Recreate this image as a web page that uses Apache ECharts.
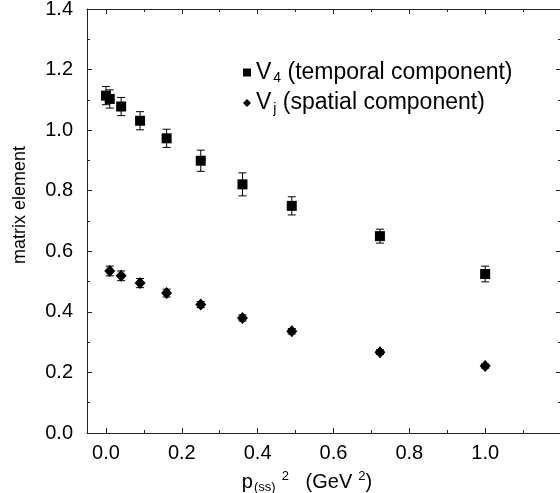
<!DOCTYPE html>
<html>
<head>
<meta charset="utf-8">
<script src="https://cdn.jsdelivr.net/npm/echarts@6/dist/echarts.min.js"></script>
<style>html,body{margin:0;padding:0;background:#fff}#c{width:560px;height:493px}</style>
</head>
<body>
<div id="c"></div>
<script>
// ---- data ----
var v4X   = [0.00, 0.01, 0.04, 0.09, 0.16, 0.25, 0.36, 0.49, 0.7225, 1.00];
var v4Y   = [1.114, 1.103, 1.078, 1.031, 0.973, 0.899, 0.821, 0.750, 0.650, 0.525];
var v4Err = [0.030, 0.030, 0.030, 0.030, 0.030, 0.035, 0.038, 0.030, 0.023, 0.026];
var vjX   = [0.01, 0.04, 0.09, 0.16, 0.25, 0.36, 0.49, 0.7225, 1.00];
var vjY   = [0.535, 0.519, 0.495, 0.462, 0.424, 0.380, 0.336, 0.267, 0.221];
var vjErr = [0.016, 0.016, 0.015, 0.013, 0.010, 0.010, 0.009, 0.008, 0.007];
var xMajorTicks = [0.0, 0.2, 0.4, 0.6, 0.8, 1.0, 1.2];
var xMinorTicks = [0.1, 0.3, 0.5, 0.7, 0.9, 1.1];
var xTickLabels = [0.0, 0.2, 0.4, 0.6, 0.8, 1.0];

var FONT = "'Liberation Sans', Arial, Helvetica, sans-serif";
var INK = '#000';
var AX = '#222';

function pts(xs, ys) { return xs.map(function (x, i) { return [x, ys[i]]; }); }
function errPts(xs, ys, es) { return xs.map(function (x, i) { return [x, ys[i] - es[i], ys[i] + es[i]]; }); }

function errRender(params, api) {
  var lo = api.coord([api.value(0), api.value(1)]);
  var hi = api.coord([api.value(0), api.value(2)]);
  var w = 4;
  var st = { stroke: INK, lineWidth: 1 };
  return { type: 'group', children: [
    { type: 'line', shape: { x1: lo[0], y1: lo[1], x2: hi[0], y2: hi[1] }, style: st },
    { type: 'line', shape: { x1: hi[0] - w, y1: hi[1], x2: hi[0] + w, y2: hi[1] }, style: st },
    { type: 'line', shape: { x1: lo[0] - w, y1: lo[1], x2: lo[0] + w, y2: lo[1] }, style: st }
  ]};
}

var baseX = { type: 'value', min: -0.05, max: 1.2, splitLine: { show: false } };
function xAx(pos, ticks, len, showLine, labels) {
  return Object.assign({}, baseX, {
    position: pos,
    axisLine: { show: showLine, onZero: false, lineStyle: { color: AX, width: 1 } },
    axisTick: { show: true, inside: true, length: len, customValues: ticks, lineStyle: { color: AX } },
    axisLabel: labels ? { show: true, customValues: xTickLabels, color: INK, fontFamily: FONT, fontSize: 20, margin: 10,
      formatter: function (v) { return Number(v).toFixed(1); } } : { show: false }
  });
}

var xAxes = [
  xAx('bottom', xMajorTicks, 5, true, true),
  xAx('bottom', xMinorTicks, 3, false, false),
  xAx('top', xMajorTicks, 5, true, false),
  xAx('top', xMinorTicks, 3, false, false)
];
xAxes[0].name = '{p|p}{sub|(ss)}{sup|2}{t|   (GeV}{sup|2}{t|)}';
xAxes[0].nameLocation = 'middle';
xAxes[0].nameGap = 37;
xAxes[0].nameTextStyle = {
  color: INK, fontFamily: FONT, fontSize: 20, padding: [0, 34, 0, 0],
  rich: {
    p: { fontFamily: FONT, fontSize: 20, color: INK },
    t: { fontFamily: FONT, fontSize: 20, color: INK },
    sub: { fontFamily: FONT, fontSize: 13, color: INK, padding: [9, 0, 0, 1] },
    sup: { fontFamily: FONT, fontSize: 13, color: INK, padding: [0, 0, 12, 6] }
  }
};

function yAx(pos, labels) {
  return {
    type: 'value', min: 0, max: 1.4, interval: 0.2, position: pos,
    splitLine: { show: false },
    axisLine: { show: true, onZero: false, lineStyle: { color: AX, width: 1 } },
    axisTick: { show: true, inside: true, length: 5, lineStyle: { color: AX } },
    minorTick: { show: true, splitNumber: 2, length: 3, lineStyle: { color: AX } },
    axisLabel: labels ? { show: true, color: INK, fontFamily: FONT, fontSize: 20, margin: 14,
      formatter: function (v) { return Number(v).toFixed(1); } } : { show: false }
  };
}
var yAxes = [yAx('left', true), yAx('right', false)];
yAxes[0].name = 'matrix element';
yAxes[0].nameLocation = 'middle';
yAxes[0].nameGap = 58;
yAxes[0].nameTextStyle = { color: INK, fontFamily: FONT, fontSize: 18, padding: [0, 0, 0, 32] };

var chart = echarts.init(document.getElementById('c'), null, { renderer: 'canvas' });
chart.setOption({
  animation: false,
  backgroundColor: '#fff',
  grid: { left: 87, right: -1, top: 9, bottom: 60, containLabel: false, outerBoundsMode: 'none' },
  xAxis: xAxes,
  yAxis: yAxes,
  legend: {
    orient: 'vertical', left: 238, top: 56,
    itemWidth: 8, itemHeight: 8, itemGap: 6,
    data: [
      { name: 'V4', icon: 'rect' },
      { name: 'Vj', icon: 'diamond' }
    ],
    formatter: function (name) {
      return name === 'V4' ? '{n|V}{s|4}{n| (temporal component)}' : '{n|V}{s|j}{n| (spatial component)}';
    },
    textStyle: {
      color: INK, fontFamily: FONT, fontSize: 23,
      rich: {
        n: { fontFamily: FONT, fontSize: 23, color: INK },
        s: { fontFamily: FONT, fontSize: 14, color: INK, padding: [12, 0, 0, 2] }
      }
    }
  },
  series: [
    { type: 'custom', name: 'V4err', renderItem: errRender, data: errPts(v4X, v4Y, v4Err), z: 1, silent: true },
    { type: 'custom', name: 'Vjerr', renderItem: errRender, data: errPts(vjX, vjY, vjErr), z: 1, silent: true },
    { type: 'scatter', name: 'V4', symbol: 'rect', symbolSize: 10, itemStyle: { color: INK, opacity: 1 }, data: pts(v4X, v4Y), z: 3 },
    { type: 'scatter', name: 'Vj', symbol: 'diamond', symbolSize: [11, 12], itemStyle: { color: INK, opacity: 1 }, data: pts(vjX, vjY), z: 3 }
  ]
});
</script>
</body>
</html>
